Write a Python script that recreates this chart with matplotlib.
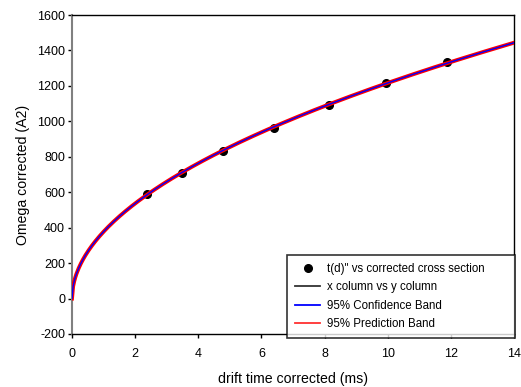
import numpy as np
import matplotlib
matplotlib.use('Agg')
import matplotlib.pyplot as plt

plt.rcParams['font.family'] = ['Liberation Sans', 'DejaVu Sans']
plt.rcParams['axes.unicode_minus'] = False

# measured points: drift time (ms) vs corrected cross section
drift_time = [2.37, 3.49, 4.79, 6.40, 8.14, 9.95, 11.89]
omega = [589, 710, 835, 961, 1094, 1218, 1335]

# power-law fit y = a*x^b (log-log regression of the points)
b, lna = np.polyfit(np.log(drift_time), np.log(omega), 1)
a = np.exp(lna)
xfit = np.linspace(0, 14, 400)
yfit = a * xfit ** b

fig = plt.figure(figsize=(5.21, 3.87), dpi=100)
ax = fig.add_axes([72/521, 1-334/387, (514-72)/521, (334-15)/387])

ax.plot(xfit, yfit, color='#333333', linewidth=1.0, label='x column vs y column', zorder=2)
ax.plot(xfit, yfit, color='red', linewidth=2.8, label='95% Prediction Band', zorder=3)
ax.plot(xfit, yfit, color='blue', linewidth=1.0, label='95% Confidence Band', zorder=4)
ax.plot(drift_time, omega, 'o', color='black', markersize=5.5, zorder=1,
        label='t(d)" vs corrected cross section')

ax.set_xlim(0, 14)
ax.set_ylim(-200, 1600)
ax.set_xticks(np.arange(0, 15, 2))
ax.set_yticks(np.arange(-200, 1601, 200))
ax.tick_params(direction='out', length=3, width=1, labelsize=9, pad=7)
ax.tick_params(axis='y', pad=2)
ax.spines['left'].set_color('#808080')
ax.spines['left'].set_linewidth(1.5)
for s in ['top', 'bottom', 'right']:
    ax.spines[s].set_linewidth(1.0)

ax.set_xlabel('drift time corrected (ms)', fontsize=10.2)
ax.xaxis.set_label_coords(293.5/521, 1-372/387, transform=fig.transFigure)
ax.set_ylabel('Omega corrected (A2)', fontsize=10.2, labelpad=5)

h, l = ax.get_legend_handles_labels()
order = [3, 0, 2, 1]
leg = ax.legend([h[i] for i in order], [l[i] for i in order],
                loc='lower left', bbox_to_anchor=(287/521, 1-338/387, (515-287)/521, (338-255)/387),
                bbox_transform=fig.transFigure, mode='expand',
                fontsize=8.3, frameon=True, fancybox=False, handlelength=2.2,
                labelspacing=0.55, borderpad=0.7, handletextpad=0.6, borderaxespad=0)
leg.get_frame().set_edgecolor('black')
leg.get_frame().set_linewidth(1.2)
for ln in leg.get_lines():
    ln.set_linewidth(1.3)
leg.get_lines()[3].set_color('#ff3030')

fig.savefig('out.png', dpi=100)
